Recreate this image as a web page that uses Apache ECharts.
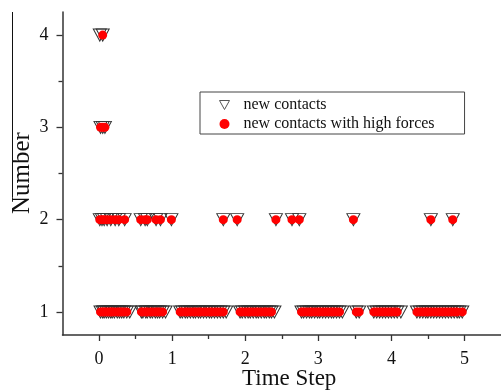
<!DOCTYPE html>
<html><head><meta charset="utf-8">
<script src="https://cdn.jsdelivr.net/npm/echarts@6/dist/echarts.min.js"></script>
<style>html,body{margin:0;padding:0;background:#fff}#c{width:501px;height:390px}</style>
</head><body><div id="c"></div>
<script>
// Time steps with new contacts, grouped by count
const level1 = [0.02,0.05,0.07,0.10,0.13,0.16,0.18,0.21,0.25,0.28,0.31,0.34,0.38,0.42,
  0.58,0.60,0.64,0.66,0.70,0.73,0.77,0.80,0.83,0.87,0.91,
  1.11,1.14,1.18,1.21,1.25,1.29,1.32,1.36,1.39,1.43,1.47,1.51,1.54,1.58,1.62,1.66,1.70,1.74,
  1.93,1.96,2.00,2.04,2.07,2.11,2.15,2.18,2.22,2.26,2.29,2.33,2.36,2.40,
  2.77,2.80,2.84,2.88,2.91,2.95,2.99,3.02,3.06,3.10,3.14,3.18,3.21,3.25,3.29,3.33,
  3.52,3.56,
  3.76,3.80,3.84,3.88,3.92,3.96,4.00,4.04,4.08,4.13,
  4.35,4.39,4.43,4.47,4.50,4.54,4.58,4.62,4.66,4.70,4.74,4.78,4.82,4.86,4.90,4.93,4.97];
const level2 = [0.01,0.04,0.07,0.11,0.16,0.22,0.27,0.35,0.57,0.63,0.66,0.78,0.84,0.99,1.70,1.89,2.42,2.64,2.74,3.48,4.54,4.84];
const level3 = [0.02,0.05,0.08];
const level4 = [0.01,0.05];
// Time steps with new contacts carrying high forces
const high1 = [0.02,0.05,0.07,0.10,0.13,0.16,0.18,0.21,0.25,0.28,0.31,0.34,0.38,
  0.58,0.60,0.64,0.66,0.70,0.73,0.77,0.80,0.83,0.87,
  1.11,1.14,1.18,1.21,1.25,1.29,1.32,1.36,1.39,1.43,1.47,1.51,1.54,1.58,1.62,1.66,1.70,
  1.93,1.96,2.00,2.04,2.07,2.11,2.15,2.18,2.22,2.26,2.29,2.33,2.36,
  2.77,2.80,2.84,2.88,2.91,2.95,2.99,3.02,3.06,3.10,3.14,3.18,3.21,3.25,3.29,
  3.52,3.56,
  3.76,3.80,3.84,3.88,3.92,3.96,4.00,4.04,4.08,
  4.35,4.39,4.43,4.47,4.50,4.54,4.58,4.62,4.66,4.70,4.74,4.78,4.82,4.86,4.90,4.97];
const high2 = [0.01,0.04,0.07,0.11,0.16,0.22,0.27,0.35,0.57,0.63,0.66,0.78,0.84,0.99,1.70,1.89,2.42,2.64,2.74,3.48,4.54,4.84];
const high3 = [0.02,0.05,0.08];
const high4 = [0.05];
const xTicks = [0,1,2,3,4,5];
const xMinorTicks = [0.5,1.5,2.5,3.5,4.5];
const yTicks = [1,2,3,4];
const yMinorTicks = [1.5,2.5,3.5];

function pairs(levels){
  const out=[];
  levels.forEach(([arr,y])=>arr.forEach(x=>out.push([x,y])));
  return out;
}
const allData = pairs([[level1,1],[level2,2],[level3,3],[level4,4]]);
const highData = pairs([[high1,1],[high2,2],[high3,3],[high4,4]]);

const font = '"Liberation Serif", "Times New Roman", serif';
const axisCol = '#333';
const XMIN=-0.5, XMAX=5.5, YMIN=0.75, YMAX=4.25;
const chart = echarts.init(document.getElementById('c'), null, {renderer:'canvas'});
chart.setOption({
  animation:false,
  backgroundColor:'#fff',
  grid:{left:62.5, top:12, width:441.6, height:323},
  xAxis:[{type:'value', min:XMIN, max:XMAX, position:'bottom',
    axisLine:{show:true, onZero:false, lineStyle:{color:axisCol, width:1.5}},
    axisTick:{show:true, inside:false, length:6, customValues:xTicks, lineStyle:{color:axisCol, width:1.3}},
    splitLine:{show:false},
    axisLabel:{fontFamily:font, fontSize:18, color:'#111', margin:15, customValues:xTicks}
  },{type:'value', min:XMIN, max:XMAX, position:'bottom',
    axisLine:{show:false, onZero:false},
    axisTick:{show:true, inside:false, length:4, customValues:xMinorTicks, lineStyle:{color:axisCol, width:1.3}},
    splitLine:{show:false}, axisLabel:{show:false}
  }],
  yAxis:[{type:'value', min:YMIN, max:YMAX, position:'left',
    axisLine:{show:true, onZero:false, lineStyle:{color:axisCol, width:1.5}},
    axisTick:{show:true, inside:false, length:6, customValues:yTicks, lineStyle:{color:axisCol, width:1.3}},
    splitLine:{show:false},
    axisLabel:{fontFamily:font, fontSize:18, color:'#111', margin:14, customValues:yTicks}
  },{type:'value', min:YMIN, max:YMAX, position:'left',
    axisLine:{show:false, onZero:false},
    axisTick:{show:true, inside:false, length:4, customValues:yMinorTicks, lineStyle:{color:axisCol, width:1.3}},
    splitLine:{show:false}, axisLabel:{show:false}
  }],
  legend:{orient:'vertical', left:200, top:92,
    padding:[5,30,2,19], itemGap:3, itemWidth:10, itemHeight:10,
    borderColor:'#444', borderWidth:1, backgroundColor:'#fff',
    textStyle:{fontFamily:font, fontSize:16, color:'#111', padding:[0,0,0,9]},
    data:[{name:'new contacts', icon:'path://M0,0 L10,0 L5,9 Z',
            itemStyle:{color:'#fff', borderColor:'#555', borderWidth:1}},
          {name:'new contacts with high forces', icon:'circle'}]},
  series:[
    {name:'new contacts', type:'scatter', symbol:'triangle', symbolRotate:180, symbolSize:[13,12],
      itemStyle:{color:'rgba(255,255,255,0)', borderColor:'#333', borderWidth:1, opacity:1},
      data:allData, z:2},
    {name:'new contacts with high forces', type:'scatter', symbol:'circle', symbolSize:9,
      itemStyle:{color:'#ff0000', opacity:1}, data:highData, z:3}
  ],
  graphic:[
    {type:'text', left:242, top:367, style:{text:'Time Step', font:'23px '+font, fill:'#111'}},
    {type:'text', x:10, y:214, rotation:Math.PI/2, style:{text:'Number', font:'25px '+font, fill:'#111'}},
    {type:'line', shape:{x1:12.5, y1:12, x2:12.5, y2:197}, style:{stroke:'#111', lineWidth:1}}
  ]
});
</script></body></html>
